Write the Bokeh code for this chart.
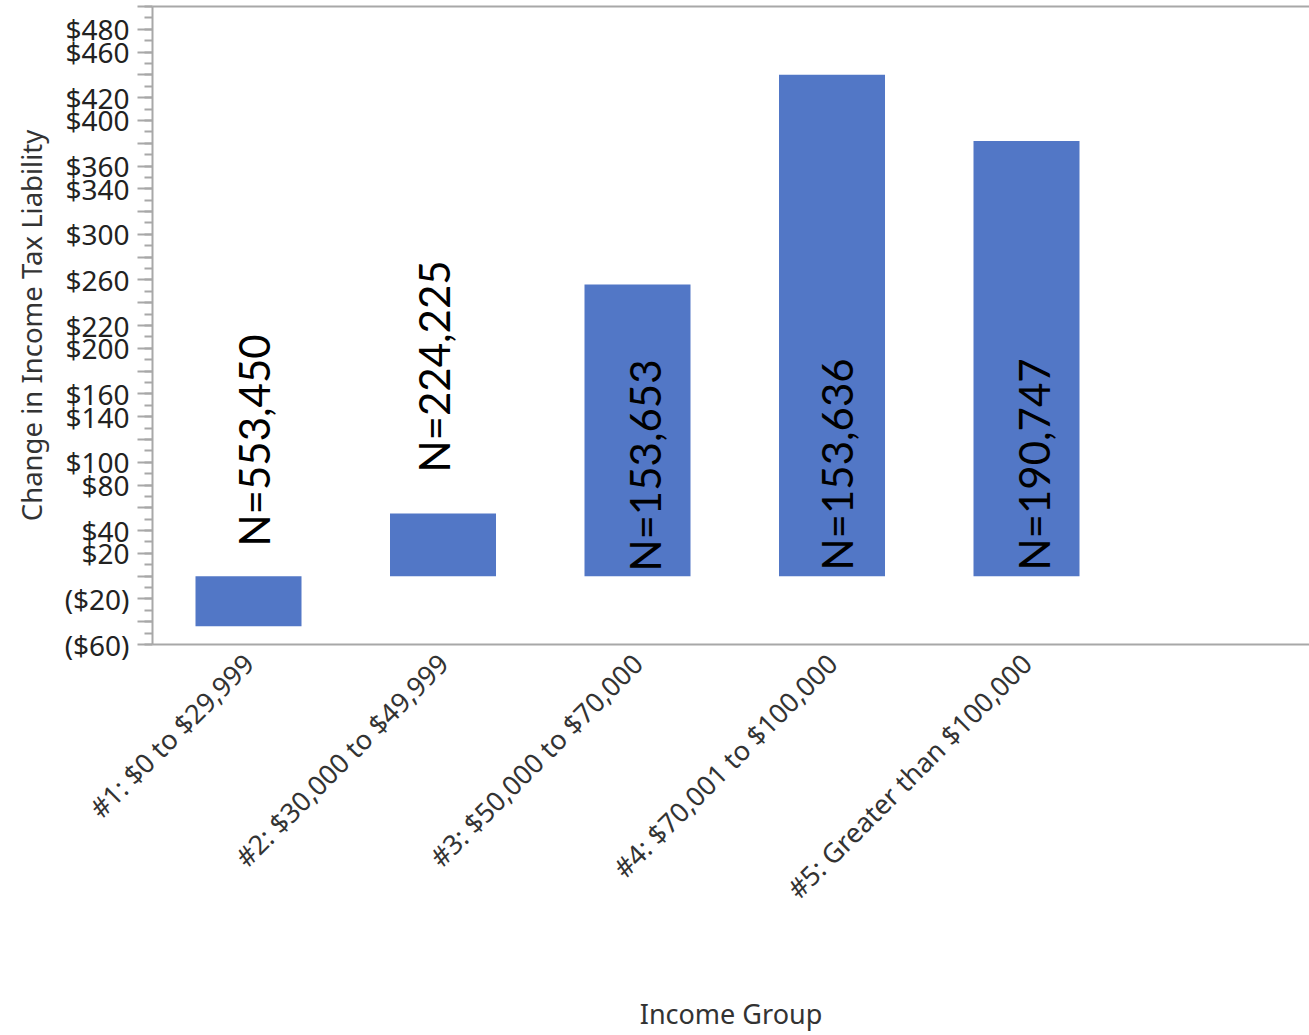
from math import pi
from bokeh.plotting import figure
from bokeh.models import ColumnDataSource, FixedTicker, LinearAxis, Range1d
from bokeh.core.properties import value
from bokeh.embed import file_html
from bokeh.resources import INLINE

# ---- data ----
categories = [
    "#1: $0 to $29,999",
    "#2: $30,000 to $49,999",
    "#3: $50,000 to $70,000",
    "#4: $70,001 to $100,000",
    "#5: Greater than $100,000",
]
change_values = [-44, 55, 256, 440, 382]
n_labels = ["N=553,450", "N=224,225", "N=153,653", "N=153,636", "N=190,747"]
# where each N annotation starts (data units)
n_label_base = [26, 91, 4, 5, 5]
n_label_shift = [0.026, -0.046, 0.041, 0.026, 0.041]

y_labeled_ticks = [480, 460, 420, 400, 360, 340, 300, 260, 220, 200,
                   160, 140, 100, 80, 40, 20, -20, -60]


def money(v):
    return f"(${-v})" if v < 0 else f"${v}"


x_pos = list(range(len(categories)))
src = ColumnDataSource(dict(x=x_pos, top=change_values))
lab = ColumnDataSource(dict(
    x=[i + s for i, s in zip(x_pos, n_label_shift)],
    y=n_label_base,
    t=n_labels,
))

p = figure(
    width=1309, height=1035,
    x_range=Range1d(-0.4936, 5.455), y_range=Range1d(-60, 500),
    output_backend="svg", toolbar_location=None,
    min_border_left=152, min_border_right=0, min_border_top=6,
    min_border_bottom=389,
)
p.outline_line_color = None
p.grid.visible = False
p.background_fill_color = "white"

p.vbar(x="x", top="top", bottom=0, width=0.545, source=src,
       fill_color="#5277c6", line_color=None)

p.text(x="x", y="y", text="t", source=lab, angle=pi / 2,
       text_align="left", text_baseline="middle",
       text_font=value("Lato"), text_font_size="42px", text_color="black")

axis_col = "#a8a8a8"
font = "Noto Sans"

# x axis
xa = p.xaxis[0]
xa.ticker = FixedTicker(ticks=x_pos)
xa.major_label_overrides = {i: c for i, c in zip(x_pos, categories)}
xa.major_label_orientation = pi / 4
xa.major_label_text_font = font
xa.major_label_text_font_size = "27px"
xa.major_label_text_color = "#333333"
xa.major_label_standoff = 8
xa.major_tick_line_color = None
xa.minor_tick_line_color = None
xa.axis_line_color = axis_col
xa.axis_line_width = 2
xa.axis_label = "Income Group"
xa.axis_label_text_font = font
xa.axis_label_text_font_size = "27px"
xa.axis_label_text_font_style = "normal"
xa.axis_label_text_color = "#333333"
xa.axis_label_standoff = 73

# y axis
ya = p.yaxis[0]
all_major = list(range(-60, 501, 20))
ya.ticker = FixedTicker(ticks=all_major, minor_ticks=list(range(-60, 501, 10)))
ya.major_label_overrides = {v: (money(v) if v in y_labeled_ticks else "") for v in all_major}
ya.major_label_text_font = font
ya.major_label_text_font_size = "28px"
ya.major_label_text_color = "#222222"
ya.major_label_standoff = 8
ya.major_tick_out = 15
ya.major_tick_in = 0
ya.minor_tick_out = 8
ya.minor_tick_in = 0
ya.major_tick_line_color = axis_col
ya.minor_tick_line_color = axis_col
ya.major_tick_line_width = 2
ya.minor_tick_line_width = 2
ya.axis_line_color = axis_col
ya.axis_line_width = 2
ya.axis_label = "Change in Income Tax Liability"
ya.axis_label_text_font = font
ya.axis_label_text_font_size = "27.5px"
ya.axis_label_text_font_style = "normal"
ya.axis_label_text_color = "#333333"
ya.axis_label_standoff = 12

# top border line
top = LinearAxis(ticker=FixedTicker(ticks=[]), major_label_text_font_size="0px",
                 major_tick_out=0, minor_tick_out=0, major_label_standoff=0,
                 axis_line_color=axis_col, axis_line_width=2)
p.add_layout(top, "above")

open("out.html", "w").write(file_html(p, INLINE))
